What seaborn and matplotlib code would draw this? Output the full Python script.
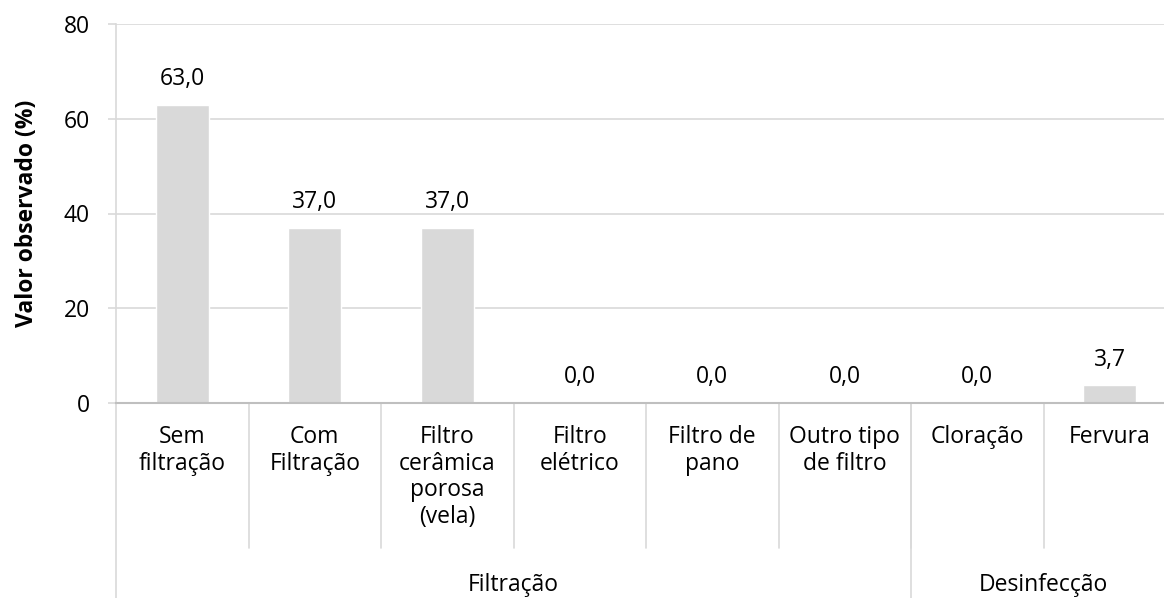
import pandas as pd
import seaborn as sns
import matplotlib.pyplot as plt

# --- Data ---
categorias = ["Sem\nfiltração", "Com\nFiltração", "Filtro\ncerâmica\nporosa\n(vela)",
              "Filtro\nelétrico", "Filtro de\npano", "Outro tipo\nde filtro",
              "Cloração", "Fervura"]
valores = [63.0, 37.0, 37.0, 0.0, 0.0, 0.0, 0.0, 3.7]
grupos = ["Filtração", "Desinfecção"]
grupo_tamanho = [6, 2]

df = pd.DataFrame({"categoria": categorias, "valor": valores})

# --- Style ---
sns.set_theme(style="white")
plt.rcParams["font.family"] = ["Open Sans", "DejaVu Sans"]
grid_color = "#d9d9d9"
text_color = "#000000"
fs = 16.5

fig = plt.figure(figsize=(11.64, 5.98), dpi=100)
ax = fig.add_axes([116 / 1164, 195 / 598, 1060 / 1164, 379 / 598])

sns.barplot(data=df, x="categoria", y="valor", color="#d9d9d9", width=0.4,
            saturation=1, ax=ax, zorder=2)

ax.set_ylim(0, 80)
ax.set_xlim(-0.5, len(categorias) - 0.5)
ax.set_yticks(range(0, 81, 20))
ax.yaxis.grid(True, color=grid_color, linewidth=1.2, zorder=0)
ax.set_axisbelow(True)
ax.tick_params(axis="y", length=5.8, width=1.2, color=grid_color, labelsize=fs,
               labelcolor=text_color, pad=13, left=True)
ax.tick_params(axis="x", bottom=False, labelbottom=False)
for s in ["top", "right"]:
    ax.spines[s].set_visible(False)
ax.spines["left"].set_color(grid_color)
ax.spines["left"].set_linewidth(1.2)
ax.spines["bottom"].set_color("#bfbfbf")
ax.spines["bottom"].set_linewidth(1.5)
ax.set_xlabel("")
ax.set_ylabel("Valor observado (%)", fontsize=fs, fontweight="bold",
              color=text_color, labelpad=18)

# value labels with comma decimal
ax.bar_label(ax.containers[0],
             labels=[f"{v:.1f}".replace(".", ",") for v in valores],
             padding=10, fontsize=fs, color=text_color)

# --- Multi-level category axis ---
trans = ax.get_xaxis_transform()
for i, cat in enumerate(categorias):
    ax.text(i, -0.058, cat, transform=trans, ha="center", va="top",
            fontsize=fs, color=text_color, linespacing=1.15)

# separators between categories
for i in range(1, len(categorias)):
    ax.plot([i - 0.5, i - 0.5], [0, -0.383], transform=trans, color=grid_color,
            linewidth=1.2, clip_on=False)

# group separators and labels
start = 0
ax.plot([-0.5, -0.5], [0, -0.52], transform=trans, color=grid_color,
        linewidth=1.2, clip_on=False)
for g, n in zip(grupos, grupo_tamanho):
    end = start + n
    ax.plot([end - 0.5, end - 0.5], [0, -0.52], transform=trans,
            color=grid_color, linewidth=1.2, clip_on=False)
    ax.text((start + end - 1) / 2, -0.496, g, transform=trans, ha="center",
            va="baseline", fontsize=fs, color=text_color)
    start = end

fig.savefig("out.png", dpi=100)
